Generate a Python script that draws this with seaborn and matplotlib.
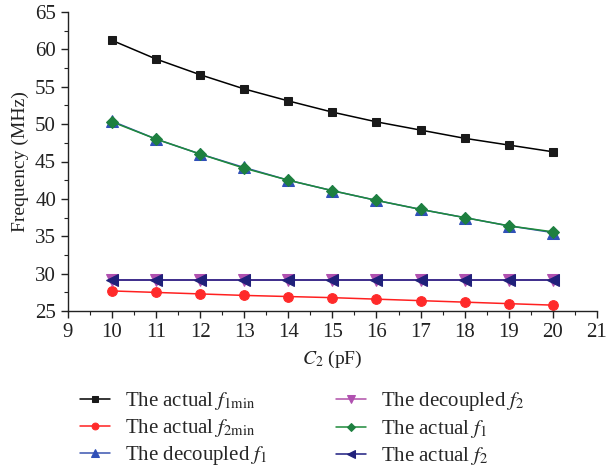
import matplotlib
matplotlib.use("Agg")
import matplotlib.pyplot as plt
import seaborn as sns
import pandas as pd
from matplotlib.ticker import MultipleLocator

c2 = [10, 11, 12, 13, 14, 15, 16, 17, 18, 19, 20]
f1min_actual = [61.2, 58.7, 56.6, 54.7, 53.1, 51.6, 50.3, 49.2, 48.1, 47.2, 46.3]
f2min_actual = [27.7, 27.5, 27.3, 27.1, 26.95, 26.8, 26.6, 26.4, 26.2, 26.0, 25.8]
f1_decoupled = [50.4, 48.0, 46.0, 44.2, 42.5, 41.1, 39.8, 38.6, 37.5, 36.4, 35.5]
f2_decoupled = [29.2, 29.2, 29.2, 29.2, 29.2, 29.2, 29.2, 29.2, 29.2, 29.2, 29.2]
f1_actual = [50.3, 48.0, 46.0, 44.1, 42.5, 41.1, 39.8, 38.6, 37.5, 36.4, 35.6]
f2_actual = [29.1, 29.1, 29.1, 29.1, 29.1, 29.1, 29.1, 29.1, 29.1, 29.1, 29.1]

labels = [r"The actual $f_{1\mathrm{min}}$", r"The actual $f_{2\mathrm{min}}$",
          r"The decoupled $f_1$", r"The decoupled $f_2$",
          r"The actual $f_1$", r"The actual $f_2$"]

sns.set_style("ticks")
plt.rcParams["font.family"] = ["Liberation Serif", "DejaVu Serif"]
plt.rcParams["mathtext.fontset"] = "stix"

fig = plt.figure(figsize=(6.11, 4.75), dpi=100)
ax = fig.add_axes([0.111, 0.345, 0.866, 0.63])

series = [
    (f1min_actual, "#000000", "#1a1a1a", "s", 6),
    (f2min_actual, "#ff2020", "#ff2a2a", "o", 7),
    (f1_decoupled, "#3a55b0", "#3050b8", "^", 8),
    (f2_decoupled, "#b050a8", "#b050b0", "v", 8),
    (f1_actual, "#1e8a3a", "#1e8040", "D", 6),
    (f2_actual, "#1c1c80", "#20207a", "<", 8),
]
for i in range(6):
    vals, lc, mc, mk, ms = series[i]
    df = pd.DataFrame({"C2": c2, "f": vals})
    sns.lineplot(data=df, x="C2", y="f", ax=ax, color=lc, lw=1.1,
                 marker=mk, markersize=ms, markerfacecolor=mc,
                 markeredgecolor=mc, label=labels[i])

ax.set_xlim(9, 21)
ax.set_ylim(25, 65)
ax.xaxis.set_major_locator(MultipleLocator(1))
ax.xaxis.set_minor_locator(MultipleLocator(0.5))
ax.yaxis.set_major_locator(MultipleLocator(5))
ax.yaxis.set_minor_locator(MultipleLocator(2.5))
ax.tick_params(which="major", direction="out", length=5, width=1, labelsize=15, colors="#222222")
ax.tick_params(which="minor", direction="out", length=3, width=0.8, colors="#222222")
for s in ["top", "right"]:
    ax.spines[s].set_visible(False)
for s in ["left", "bottom"]:
    ax.spines[s].set_linewidth(1.0)
    ax.spines[s].set_color("#222222")

ax.set_xlabel(r"$C_2$ (pF)", fontsize=14, color="#222222", labelpad=5)
ax.set_ylabel("Frequency (MHz)", fontsize=14, color="#222222")

h, l = ax.get_legend_handles_labels()
ax.get_legend().remove()
fig.legend(h, l, ncol=2, loc="upper left", bbox_to_anchor=(0.131, 1 - 390 / 475),
           frameon=False, fontsize=15, handlelength=1.45, handletextpad=0.7,
           columnspacing=3.3, labelspacing=0.25, borderaxespad=0, borderpad=0,
           markerscale=0.7)

fig.savefig("out.png", dpi=100)
